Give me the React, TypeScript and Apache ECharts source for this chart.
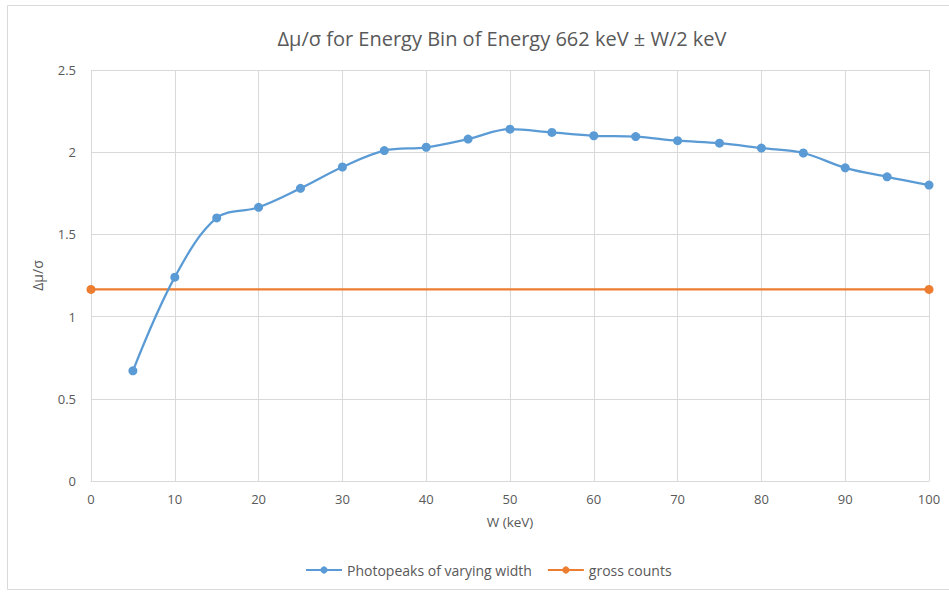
import React, { useEffect, useRef } from "react";
import * as echarts from "echarts";

const widths = [5, 10, 15, 20, 25, 30, 35, 40, 45, 50, 55, 60, 65, 70, 75, 80, 85, 90, 95, 100];
const photopeakValues = [0.67, 1.24, 1.6, 1.665, 1.78, 1.91, 2.01, 2.03, 2.08, 2.14, 2.12, 2.1, 2.095, 2.07, 2.055, 2.025, 1.995, 1.905, 1.85, 1.8];
const grossX = [0, 100];
const grossValues = [1.165, 1.165];

const titleText = "Δμ/σ for Energy Bin of Energy 662 keV ± W/2 keV";
const seriesNames = ["Photopeaks of varying width", "gross counts"];

const FONT = "'Open Sans', 'Noto Sans', sans-serif";
const TEXT = "#595959";
const GRID = "#d9d9d9";

export default function App() {
  const ref = useRef<HTMLDivElement>(null);
  useEffect(() => {
    if (!ref.current) return;
    const chart = echarts.init(ref.current, null, { renderer: "svg" });
    chart.setOption({
      animation: false,
      backgroundColor: "#ffffff",
      textStyle: { fontFamily: FONT },
      title: {
        text: titleText,
        left: 497,
        top: 23,
        textAlign: "center",
        textStyle: { fontFamily: FONT, fontSize: 20, fontWeight: "normal", color: TEXT },
      },
      graphic: [
        {
          type: "rect",
          shape: { x: 7.5, y: 5.5, width: 960, height: 584 },
          style: { fill: "none", stroke: GRID, lineWidth: 1 },
          silent: true,
        },
      ],
      legend: {
        bottom: 13,
        left: 300,
        itemGap: 15,
        itemWidth: 36,
        itemHeight: 9,
        textStyle: { fontFamily: FONT, fontSize: 14, color: TEXT },
        data: seriesNames,
      },
      grid: { left: 91, right: 20, top: 70, bottom: 114 },
      xAxis: {
        type: "value",
        min: 0,
        max: 100,
        interval: 10,
        name: "W (keV)",
        nameLocation: "middle",
        nameGap: 34,
        nameTextStyle: { fontFamily: FONT, fontSize: 13.5, color: TEXT },
        axisLine: { show: true, lineStyle: { color: GRID, width: 1 } },
        axisTick: { show: false },
        axisLabel: { color: TEXT, fontSize: 13, margin: 11, fontFamily: FONT },
        splitLine: { show: true, lineStyle: { color: GRID, width: 1 } },
      },
      yAxis: {
        type: "value",
        min: 0,
        max: 2.5,
        interval: 0.5,
        name: "Δμ/σ",
        nameLocation: "middle",
        nameGap: 47,
        nameTextStyle: { fontFamily: FONT, fontSize: 14, color: TEXT },
        axisLine: { show: false },
        axisTick: { show: false },
        axisLabel: { color: TEXT, fontSize: 13, margin: 15, fontFamily: FONT },
        splitLine: { show: true, lineStyle: { color: GRID, width: 1 } },
      },
      series: [
        {
          name: seriesNames[0],
          type: "line",
          data: widths.map((w, i) => [w, photopeakValues[i]]),
          smooth: 0.35,
          symbol: "circle",
          symbolSize: 9,
          itemStyle: { color: "#5B9BD5" },
          lineStyle: { color: "#5B9BD5", width: 2.25 },
          z: 3,
        },
        {
          name: seriesNames[1],
          type: "line",
          data: grossX.map((x, i) => [x, grossValues[i]]),
          symbol: "circle",
          symbolSize: 9,
          itemStyle: { color: "#ED7D31" },
          lineStyle: { color: "#ED7D31", width: 2.25 },
          z: 2,
        },
      ],
    });
    return () => chart.dispose();
  }, []);
  return <div ref={ref} style={{ width: 949, height: 595, position: "fixed", left: 0, top: 0 }} />;
}
